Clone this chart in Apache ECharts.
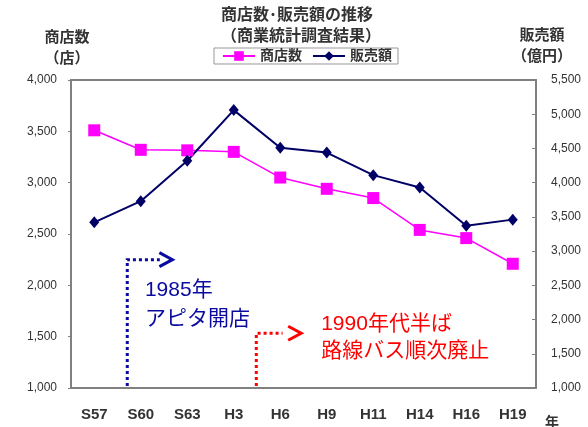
<!DOCTYPE html>
<html><head><meta charset="utf-8">
<script src="https://cdn.jsdelivr.net/npm/echarts@6/dist/echarts.min.js"></script>
<style>html,body{margin:0;padding:0;background:#fff}#c{width:588px;height:427px}</style>
</head><body><div id="c"></div>
<script>
const categories = ['S57','S60','S63','H3','H6','H9','H11','H14','H16','H19'];
const storeCounts = [3510, 3320, 3315, 3300, 3050, 2940, 2850, 2540, 2460, 2210];
const salesAmounts = [3420, 3730, 4320, 5060, 4510, 4440, 4110, 3930, 3370, 3460];
const leftTicks = {min: 1000, max: 4000, interval: 500};
const rightTicks = {min: 1000, max: 5500, interval: 500};
const seriesNames = ['商店数', '販売額'];
const titleText = '商店数･販売額の推移';
const subtitleText = '（商業統計調査結果）';
const leftAxisName = ['商店数', '（店）'];
const rightAxisName = ['販売額', '（億円）'];
const xAxisUnit = '年';
// annotations: [category position, left-axis value]
const blueNote = {lines: ['1985年', 'アピタ開店'], x: 0.71, top: 2250, arrowEnd: 1.41, tip: 1.68, textX: 1.09, textY: [1955, 1672]};
const redNote = {lines: ['1990年代半ば', '路線バス順次廃止'], x: 3.485, top: 1533, arrowEnd: 4.05, tip: 4.45, textX: 4.88, textY: [1623, 1354]};

const FONT = '"Liberation Sans", "Noto Sans CJK JP", sans-serif';
const chart = echarts.init(document.getElementById('c'), null, {renderer: 'canvas'});
const fmt = v => v.toLocaleString('en-US');
const axisGray = '#808080';

chart.setOption({
  backgroundColor: '#fff',
  animation: false,
  textStyle: {fontFamily: FONT},
  title: [
    {text: titleText, left: 221, top: 8, padding: 0, textStyle: {fontSize: 16, fontWeight: 'bold', color: '#333', fontFamily: FONT}},
    {text: subtitleText, left: 221, top: 29, padding: 0, textStyle: {fontSize: 16, fontWeight: 'bold', color: '#333', fontFamily: FONT}}
  ],
  legend: {
    data: seriesNames, left: 214, top: 48, padding: [1, 6, 1, 8], itemGap: 10,
    itemWidth: 32, itemHeight: 12, borderColor: '#999', borderWidth: 1,
    textStyle: {fontSize: 14, fontWeight: 'bold', color: '#333', fontFamily: FONT}
  },
  grid: {left: 71, right: 52, top: 80, bottom: 39, show: true, borderColor: axisGray, borderWidth: 2, containLabel: false},
  xAxis: {
    type: 'category', data: categories, boundaryGap: true,
    axisLine: {lineStyle: {color: axisGray, width: 2}},
    axisTick: {inside: true, length: 4, lineStyle: {color: axisGray}},
    axisLabel: {fontSize: 15, fontWeight: 'bold', color: '#333', margin: 19, fontFamily: FONT},
    splitLine: {show: false}
  },
  yAxis: [
    {type: 'value', position: 'left', min: leftTicks.min, max: leftTicks.max, interval: leftTicks.interval,
     axisLine: {show: true, lineStyle: {color: axisGray, width: 2}},
     axisTick: {show: true, length: 3, lineStyle: {color: axisGray}},
     axisLabel: {formatter: fmt, fontSize: 12, color: '#333', margin: 14, fontFamily: FONT},
     splitLine: {show: false}},
    {type: 'value', position: 'right', min: rightTicks.min, max: rightTicks.max, interval: rightTicks.interval,
     axisLine: {show: true, lineStyle: {color: axisGray, width: 2}},
     axisTick: {show: true, inside: true, length: 4, lineStyle: {color: axisGray}},
     axisLabel: {formatter: fmt, fontSize: 12, color: '#333', margin: 15, fontFamily: FONT},
     splitLine: {show: false}}
  ],
  series: [
    {name: seriesNames[0], type: 'line', yAxisIndex: 0, data: storeCounts,
     symbol: 'rect', symbolSize: 12, color: '#FF00FF',
     lineStyle: {color: '#FF00FF', width: 1.5}, itemStyle: {color: '#FF00FF'}},
    {name: seriesNames[1], type: 'line', yAxisIndex: 1, data: salesAmounts,
     symbol: 'diamond', symbolSize: [10, 12], color: '#000066',
     lineStyle: {color: '#000066', width: 2}, itemStyle: {color: '#000066'}}
  ]
});

function catPx(pos) {
  const i = Math.max(0, Math.min(categories.length - 2, Math.floor(pos)));
  const a = chart.convertToPixel({xAxisIndex: 0}, categories[i]);
  const b = chart.convertToPixel({xAxisIndex: 0}, categories[i + 1]);
  return a + (b - a) * (pos - i);
}
const yPx = v => chart.convertToPixel({yAxisIndex: 0}, v);

function noteGraphics(n, color, fontSize) {
  const x = catPx(n.x), y0 = yPx(leftTicks.min) - 2, yt = yPx(n.top);
  const xe = catPx(n.arrowEnd), xt = catPx(n.tip);
  const g = [];
  g.push({type: 'polyline', silent: true, shape: {points: [[x, y0], [x, yt], [xe, yt]]},
          style: {stroke: color, lineWidth: 3, lineDash: [3, 3], fill: null}, z: 10});
  g.push({type: 'polyline', silent: true, shape: {points: [[xt - 13, yt - 7], [xt, yt], [xt - 13, yt + 7]]},
          style: {stroke: color, lineWidth: 3, fill: null}, z: 10});
  n.lines.forEach((t, k) => {
    g.push({type: 'text', silent: true, x: catPx(n.textX), y: yPx(n.textY[k]), z: 10,
            style: {text: t, fill: color, font: fontSize + 'px ' + FONT, textAlign: 'left', textVerticalAlign: 'middle'}});
  });
  return g;
}

const labelStyle = (t, x, y) => ({type: 'text', silent: true, x: x, y: y,
  style: {text: t, fill: '#333', font: 'bold 15px ' + FONT, textAlign: 'center', textVerticalAlign: 'middle'}});

chart.setOption({
  graphic: [
    labelStyle(leftAxisName[0], 67, 38),
    labelStyle(leftAxisName[1], 67, 59),
    labelStyle(rightAxisName[0], 542, 36),
    labelStyle(rightAxisName[1], 542, 57),
    {type: 'text', silent: true, x: 552, y: 423,
     style: {text: xAxisUnit, fill: '#333', font: 'bold 14px ' + FONT, textAlign: 'center', textVerticalAlign: 'middle'}}
  ].concat(noteGraphics(blueNote, '#0A0AA0', 21)).concat(noteGraphics(redNote, '#FF0000', 21))
});
</script>
</body></html>
